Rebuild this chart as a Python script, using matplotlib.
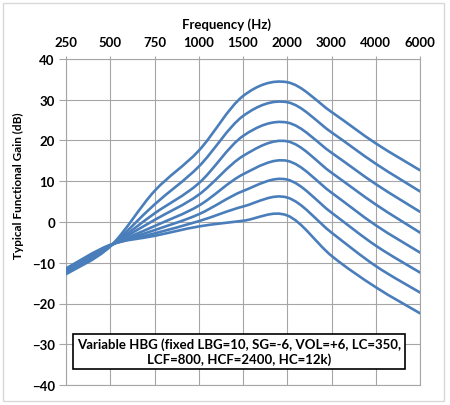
import numpy as np
import matplotlib
matplotlib.use("Agg")
import matplotlib.pyplot as plt
from matplotlib.path import Path
from matplotlib.patches import PathPatch, Rectangle

# ─── Data ─────────────────────────────────────────────────────────────────────
freqs = ["250", "500", "750", "1000", "1500", "2000", "3000", "4000", "6000"]

hbg_1 = [-12.8, -6.0,  7.6, 17.5, 30.9, 34.3, 27.0, 19.3, 12.7]
hbg_2 = [-12.6, -5.9,  4.3, 13.6, 26.0, 29.4, 22.0, 14.3,  7.5]
hbg_3 = [-12.4, -5.9,  2.1,  9.5, 21.1, 24.4, 17.0,  9.3,  2.5]
hbg_4 = [-12.2, -5.8,  0.5,  6.7, 16.2, 19.8, 12.1,  4.3, -2.6]
hbg_5 = [-12.0, -5.8, -1.0,  4.0, 11.7, 15.0,  7.2, -0.8, -7.5]
hbg_6 = [-11.8, -5.7, -2.0,  1.9,  7.6, 10.4,  2.3, -5.8, -12.4]
hbg_7 = [-11.6, -5.7, -2.8,  0.2,  3.8,  6.0, -2.6, -10.8, -17.3]
hbg_8 = [-11.4, -5.6, -3.4, -1.1,  0.3,  1.6, -8.3, -16.0, -22.4]
series = [hbg_1, hbg_2, hbg_3, hbg_4, hbg_5, hbg_6, hbg_7, hbg_8]

note = "Variable HBG (fixed LBG=10, SG=-6, VOL=+6, LC=350,\nLCF=800, HCF=2400, HC=12k)"

LINE = "#4A7EBB"
GRID = "#A6A6A6"
plt.rcParams["font.family"] = ["Lato", "DejaVu Sans"]


# Excel-style smoothed line: cubic bezier through the data points
def smooth_path(ys):
    pts = np.column_stack([np.arange(len(ys)), ys]).astype(float)
    ext = np.vstack([pts[0], pts, pts[-1]])
    verts = [pts[0]]
    codes = [Path.MOVETO]
    for i in range(len(pts) - 1):
        p0, p1, p2, p3 = ext[i], ext[i + 1], ext[i + 2], ext[i + 3]
        verts += [p1 + (p2 - p0) / 6, p2 - (p3 - p1) / 6, p2]
        codes += [Path.CURVE4] * 3
    return Path(verts, codes)


# ─── Figure ───────────────────────────────────────────────────────────────────
fig = plt.figure(figsize=(4.5, 4.06), dpi=100)
ax = fig.add_axes([66 / 450, 1 - 386 / 406, 354 / 450, 326 / 406])

for ys in series:
    ax.add_patch(PathPatch(smooth_path(ys), fill=False, edgecolor=LINE,
                           lw=1.9, capstyle="round", joinstyle="round", zorder=3))

ax.set_xlim(0, len(freqs) - 1)
ax.set_ylim(-40, 40)
ax.set_xticks(np.arange(len(freqs)))
ax.set_xticklabels(freqs)
ax.set_yticks(np.arange(-40, 41, 10))
ax.xaxis.tick_top()
ax.tick_params(axis="x", length=2, color=GRID, pad=6, labelsize=9.5)
ax.tick_params(axis="y", length=5, color=GRID, pad=3, labelsize=9.5)
for lab in ax.get_xticklabels() + ax.get_yticklabels():
    lab.set_fontweight("bold")
ax.grid(True, color=GRID, lw=0.8)
for sp in ax.spines.values():
    sp.set_color(GRID)
    sp.set_linewidth(0.8)

fig.text(226 / 450, 1 - 25 / 406, "Frequency (Hz)", ha="center", va="center",
         fontsize=9.5, fontweight="bold")
fig.text(18 / 450, 1 - 186 / 406, "Typical Functional Gain (dB)", ha="center",
         va="center", rotation=90, fontsize=8.5, fontweight="bold")

fig.text(239 / 450, 1 - 352.5 / 406, note, ha="center", va="center",
         fontsize=9.5, fontweight="bold", linespacing=1.2,
         bbox=dict(boxstyle="square,pad=0.3", fc="white", ec="black", lw=1.2),
         zorder=5)

# light chart-area border
fig.patches.append(Rectangle((3 / 450, 4 / 406), 441 / 450, 398 / 406,
                             transform=fig.transFigure, fill=False,
                             ec="#D9D9D9", lw=1))

fig.savefig("out.png", dpi=100)
